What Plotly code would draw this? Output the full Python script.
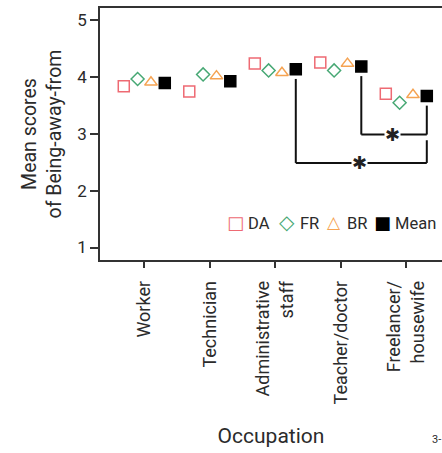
import plotly.graph_objects as go

occupations = ["Worker", "Technician", "Administrative<br>staff", "Teacher/doctor", "Freelancer/<br>housewife"]
da_scores = [3.84, 3.75, 4.24, 4.26, 3.71]
fr_scores = [3.97, 4.05, 4.12, 4.12, 3.55]
br_scores = [3.91, 4.02, 4.08, 4.24, 3.69]
mean_scores = [3.90, 3.93, 4.14, 4.19, 3.67]
y_ticks = [1, 2, 3, 4, 5]

# significance comparisons: (from category, to category, bracket level)
comparisons = [(2, 4, 2.49), (3, 4, 2.99)]

series = [
    ("DA", da_scores, "square-open", 11, "#ee6a73", -0.313, "□", 18),
    ("FR", fr_scores, "diamond-open", 10, "#47a874", -0.102, "◇", 20),
    ("BR", br_scores, "triangle-up-open", 11, "#f5a352", 0.102, "△", 17),
    ("Mean", mean_scores, "square", 11, "#000000", 0.313, "■", 18),
]

FONT = "Roboto, Arial, sans-serif"
TXT = "#2b2b2b"
fig = go.Figure()
idx = list(range(len(occupations)))
for name, vals, sym, size, col, off, glyph, gsize in series:
    fig.add_trace(go.Scatter(
        x=[i + off for i in idx], y=vals, mode="markers", name=name,
        marker=dict(symbol=sym, size=size, color=col, line=dict(color=col, width=1.5)),
        showlegend=False,
    ))

mean_off = 0.313
gap = 0.17
for k, (a, b, level) in enumerate(comparisons):
    xa = a + mean_off
    xb = b + mean_off
    ya = mean_scores[a] - gap
    yb = mean_scores[b] - gap if k == len(comparisons) - 1 else comparisons[k + 1][2] - 0.1
    path_x = [xa, xa, xb, xb]
    path_y = [ya, level, level, yb]
    for j in range(3):
        fig.add_shape(type="line", x0=path_x[j], y0=path_y[j], x1=path_x[j + 1], y1=path_y[j + 1],
                      xref="x", yref="y", line=dict(color="#111", width=2))
    fig.add_annotation(x=(xa + xb) / 2 - 0.03, y=level, text="✱", showarrow=False,
                       font=dict(family="DejaVu Sans", size=18, color="#222"),
                       bgcolor="white", borderpad=0, xref="x", yref="y")

# compact legend inside the plot (symbol glyph + label per series)
PLOT_L, PLOT_W, PLOT_B, PLOT_H = 100, 342, 260, 252
def px2paper(px, py):
    return (px - PLOT_L) / PLOT_W, (PLOT_B - py) / PLOT_H

legend_sym_px = [235, 287, 334, 382]
legend_y_px = 223
for (name, vals, sym, size, col, off, glyph, gsize), sx in zip(series, legend_sym_px):
    gx, gy = px2paper(sx, legend_y_px)
    fig.add_annotation(x=gx, y=gy, xref="paper", yref="paper", text=glyph, showarrow=False,
                       xanchor="center", yanchor="middle", yshift=1,
                       font=dict(family="DejaVu Sans", size=gsize, color=col))
    tx, ty = px2paper(sx + 11, legend_y_px)
    fig.add_annotation(x=tx, y=ty, xref="paper", yref="paper", text=name, showarrow=False,
                       xanchor="left", yanchor="middle",
                       font=dict(family=FONT, size=16.5, color=TXT))

fig.update_layout(
    width=442, height=453,
    margin=dict(l=100, r=0, t=8, b=193),
    plot_bgcolor="white", paper_bgcolor="white",
    font=dict(family=FONT, color=TXT),
    showlegend=False,
)

fig.update_xaxes(
    range=[-0.676, 4.545], tickmode="array", tickvals=idx, ticktext=occupations,
    tickangle=-90, tickfont=dict(family=FONT, size=18, color=TXT), ticklabelstandoff=6,
    showline=True, linecolor="#333", linewidth=1.5, mirror=True,
    ticks="outside", ticklen=6, tickwidth=1.5, tickcolor="#333",
    showgrid=False, zeroline=False,
    title=dict(text="Occupation", font=dict(family=FONT, size=21, color=TXT), standoff=25),
)
fig.update_yaxes(
    range=[0.78, 5.22], tickmode="array", tickvals=y_ticks,
    tickfont=dict(family=FONT, size=17, color=TXT),
    showline=True, linecolor="#333", linewidth=1.5,
    ticks="outside", ticklen=8, tickwidth=1.5, tickcolor="#333",
    showgrid=False, zeroline=False,
    title=dict(text="Mean scores<br>of Being-away-from", font=dict(family=FONT, size=19.5, color=TXT), standoff=10),
)

nx, ny = px2paper(430, 439)
fig.add_annotation(text="3-", x=nx, y=ny, xref="paper", yref="paper", xanchor="left", yanchor="middle",
                   showarrow=False, font=dict(family=FONT, size=11, color=TXT))

fig.write_html("out.html")
